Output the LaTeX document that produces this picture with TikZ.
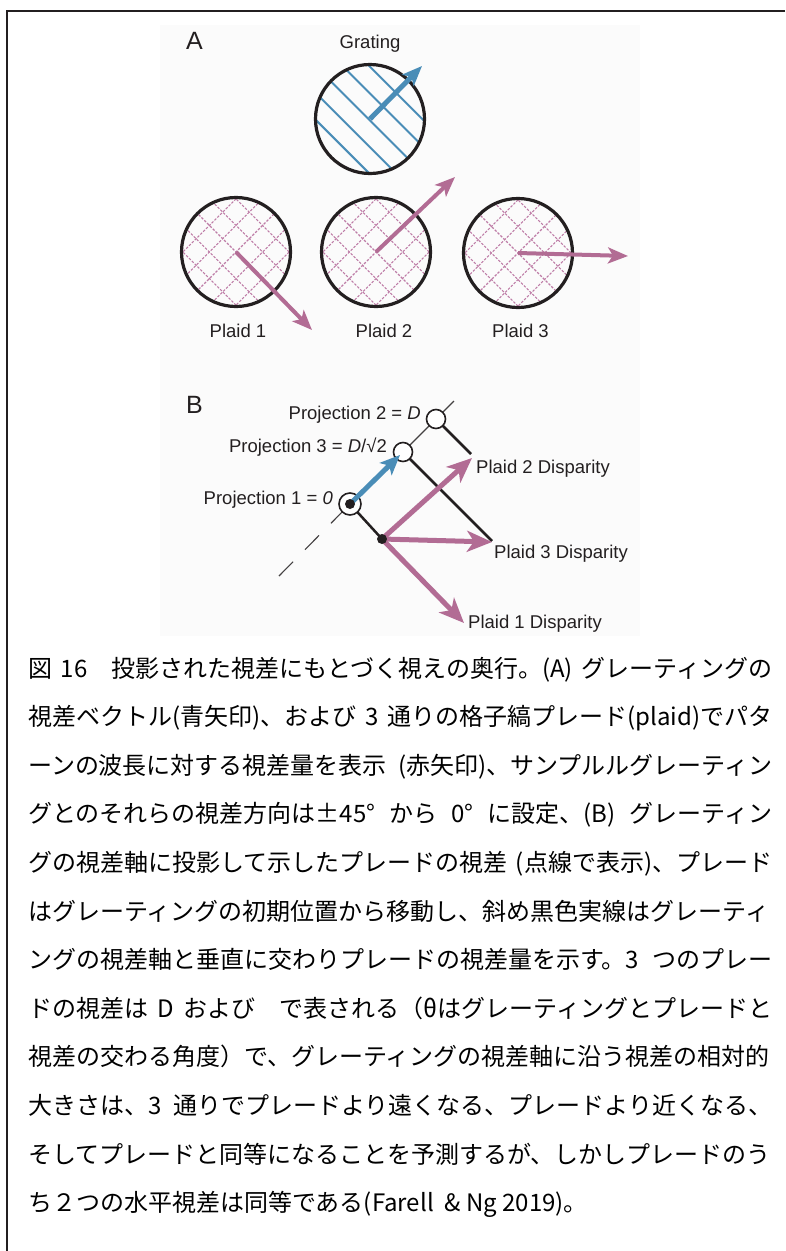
\documentclass[tikz,border=0pt]{standalone}
\usepackage{fontspec}
\setmainfont{Liberation Sans}
\newfontfamily\jp{Noto Sans CJK JP}
\usetikzlibrary{arrows.meta}
\XeTeXlinebreaklocale "ja"
\XeTeXlinebreakskip=0pt plus 3pt minus 0.5pt
\definecolor{gblue}{RGB}{74,141,183}
\definecolor{pinkc}{RGB}{178,108,148}
\definecolor{pinkl}{RGB}{190,124,166}
\definecolor{ink}{RGB}{35,31,32}
\begin{document}
\begin{tikzpicture}[x=1pt,y=-1pt,
  ring/.style={circle,draw=ink,line width=3.2pt,minimum size=109pt,inner sep=0pt},
  pring/.style={circle,draw=ink,fill=white,line width=1.6pt,minimum size=19pt,inner sep=0pt},
  bdot/.style={circle,fill=ink,minimum size=10pt,inner sep=0pt},
  stripe/.style={gblue,line width=2pt},
  hatch/.style={pinkl,line width=1.1pt,dash pattern=on 2.5pt off 1.5pt},
  bluearrow/.style={gblue,line width=5pt,-{Stealth[length=20pt,width=16pt,inset=5pt]}},
  pinkarrowA/.style={pinkc,line width=4pt,-{Stealth[length=20pt,width=16pt,inset=5pt]}},
  pinkarrowB/.style={pinkc,line width=5pt,-{Stealth[length=25pt,width=21pt,inset=7pt]}},
  perp/.style={ink,line width=2.5pt},
  axisl/.style={ink!85,line width=1.1pt},
  lab/.style={inner sep=0pt,font=\fontsize{18.5}{21}\selectfont,text=ink},
  big/.style={inner sep=0pt,font=\fontsize{25}{28}\selectfont,text=ink},
  captext/.style={anchor=base west,inner sep=0pt,font=\jp\fontsize{24}{24}\selectfont}]
\useasboundingbox (0,0) rectangle (785,1251);
\fill[white] (0,0) rectangle (785,1251);
\fill[black!1.5] (160,25) rectangle (640,636);
% frame
\draw[ink,line width=2pt] (785,11) -- (7,11) -- (7,1251);

% ---------- Panel A ----------
\node[big,anchor=base west] (A) at (186,49.5) {A};
\node[lab,anchor=base] (gratinglab) at (370,48) {Grating};

% grating stripes
\begin{scope}[shift={(370,119)}]
  \clip (0,0) circle (54);
  \foreach \o in {-39,-20,-1,18,37}
    \draw[stripe] (\o*0.7071-60,-\o*0.7071-60) -- (\o*0.7071+60,-\o*0.7071+60);
\end{scope}
\node[ring] (grating) at (370,119) {};
\coordinate (gtip) at (422,66);
\draw[bluearrow] (grating.center) -- (gtip);

% plaids
\foreach \cx/\cy in {236/252,376/252,518/253}{
  \begin{scope}[shift={(\cx,\cy)}]
    \clip (0,0) circle (54);
    \foreach \k in {-3,...,3}{
      \draw[hatch] (\k*13.3-60,-\k*13.3-60) -- (\k*13.3+60,-\k*13.3+60);
      \draw[hatch] (\k*13.3-60,\k*13.3+60) -- (\k*13.3+60,\k*13.3-60);
    }
  \end{scope}
}
\node[ring] (plaid1) at (236,252) {};
\node[ring] (plaid2) at (376,252) {};
\node[ring] (plaid3) at (518,253) {};
\coordinate (p1tip) at (312,330);
\coordinate (p2tip) at (455,177);
\coordinate (p3tip) at (628,256);
\draw[pinkarrowA] (plaid1.center) -- (p1tip);
\draw[pinkarrowA] (plaid2.center) -- (p2tip);
\draw[pinkarrowA] (plaid3.center) -- (p3tip);
\node[lab,anchor=base] (pl1) at (238,337) {Plaid 1};
\node[lab,anchor=base] (pl2) at (384,337) {Plaid 2};
\node[lab,anchor=base] (pl3) at (520.5,337) {Plaid 3};

% ---------- Panel B ----------
\node[big,anchor=base west] (B) at (186,413) {B};
\coordinate (pr1) at (350,504);
\coordinate (pr2) at (436,419);
\coordinate (pr3) at (403,452);
\coordinate (axstart) at (279,576);
\coordinate (axend) at (454,401);
\coordinate (dotpos) at (382,539);
\coordinate (l2end) at (471,454);
\coordinate (l3end) at (492,541);
\coordinate (d2tip) at (472,458);
\coordinate (d3tip) at (492,542);
\coordinate (d1tip) at (464,623);
\coordinate (btip) at (400,455);

\draw[axisl,dash pattern=on 20pt off 17pt] (axstart) -- (pr1);
\draw[axisl] (pr3) -- (pr2) -- (axend);
\draw[perp] (pr1) -- (dotpos);
\draw[perp] (pr3) -- (l3end);
\draw[perp] (pr2) -- (l2end);
\draw[pinkarrowB] (dotpos) -- (d2tip);
\draw[pinkarrowB] (dotpos) -- (d3tip);
\draw[pinkarrowB] (dotpos) -- (d1tip);
\node[pring] (proj2) at (pr2) {};
\node[pring] (proj3) at (pr3) {};
\node[pring,minimum size=22pt] (proj1) at (pr1) {};
\draw[bluearrow,-{Stealth[length=20pt,width=17pt,inset=5pt]}] (proj1.center) -- (btip);
\node[bdot] (proj1dot) at (pr1) {};
\node[bdot] (origin) at (dotpos) {};

\node[lab,anchor=base east] (t2) at (421,419) {Projection 2 = \textit{D}};
\node[lab,anchor=base east] (t3) at (387,452) {Projection 3 = \textit{D}/√2};
\node[lab,anchor=base east] (t1) at (333,504) {Projection 1 = \textit{0}};
\node[lab,anchor=base west] (dl2) at (476,473) {Plaid 2 Disparity};
\node[lab,anchor=base west] (dl3) at (494,558) {Plaid 3 Disparity};
\node[lab,anchor=base west] (dl1) at (468,628) {Plaid 1 Disparity};

% ---------- Caption ----------
\node[captext] (c1) at (28,677) {\makebox[744pt][s]{図 16　投影された視差にもとづく視えの奥行。(A) グレーティングの}};
\node[captext] (c2) at (28,725.6) {\makebox[744pt][s]{視差ベクトル(青矢印)、および 3 通りの格子縞プレード(plaid)でパタ}};
\node[captext] (c3) at (28,774.2) {\makebox[744pt][s]{ーンの波長に対する視差量を表示 (赤矢印)、サンプルルグレーティン}};
\node[captext] (c4) at (28,822.8) {\makebox[744pt][s]{グとのそれらの視差方向は±45° から 0° に設定、(B) グレーティン}};
\node[captext] (c5) at (28,871.4) {\makebox[744pt][s]{グの視差軸に投影して示したプレードの視差 (点線で表示)、プレード}};
\node[captext] (c6) at (28,920) {\makebox[744pt][s]{はグレーティングの初期位置から移動し、斜め黒色実線はグレーティ}};
\node[captext] (c7) at (28,968.6) {\makebox[744pt][s]{ングの視差軸と垂直に交わりプレードの視差量を示す。3 つのプレー}};
\node[captext] (c8) at (28,1017.2) {\makebox[744pt][s]{ドの視差は D および　で表される（θはグレーティングとプレードと}};
\node[captext] (c9) at (28,1065.8) {\makebox[744pt][s]{視差の交わる角度）で、グレーティングの視差軸に沿う視差の相対的}};
\node[captext] (c10) at (28,1114.4) {\makebox[744pt][s]{大きさは、3 通りでプレードより遠くなる、プレードより近くなる、}};
\node[captext] (c11) at (28,1163) {\makebox[744pt][s]{そしてプレードと同等になることを予測するが、しかしプレードのう}};
\node[captext] (c12) at (28,1211.6) {ち２つの水平視差は同等である(Farell\ \ \& Ng 2019)。};
\end{tikzpicture}
\end{document}
